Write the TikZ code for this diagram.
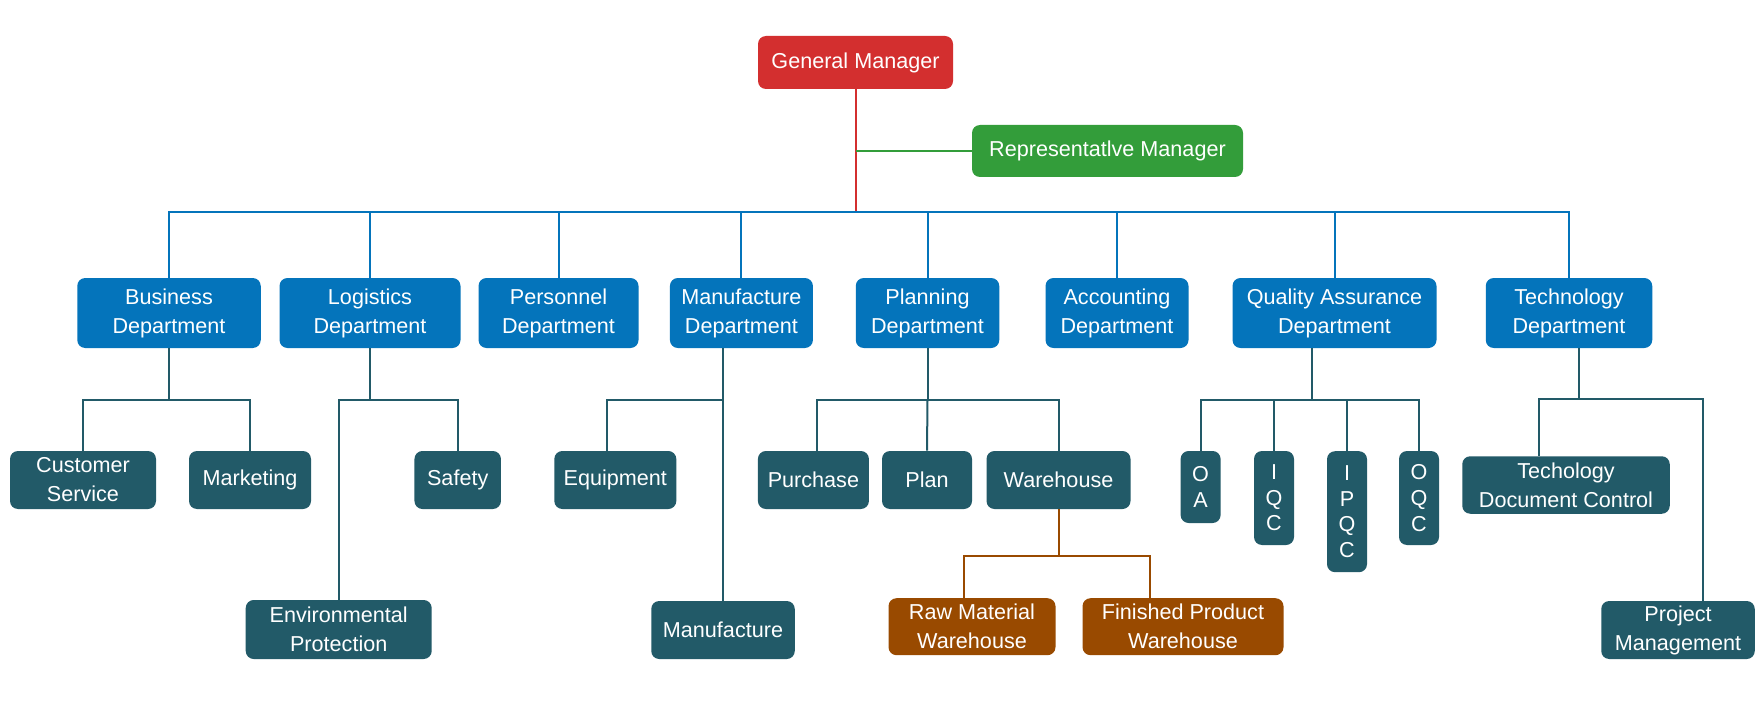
\documentclass[tikz,border=0pt]{standalone}
\usepackage{fontspec}
\setmainfont{Liberation Sans}
\usepackage{xcolor}
\usetikzlibrary{positioning,calc}

\definecolor{gmred}{RGB}{211,47,47}
\definecolor{repgreen}{RGB}{51,157,58}
\definecolor{deptblue}{RGB}{4,116,187}
\definecolor{unitteal}{RGB}{34,90,104}
\definecolor{storebrown}{RGB}{153,74,0}

\tikzset{
    box/.style={rounded corners=4pt, text=white, align=center, inner sep=0pt,
        font=\fontsize{10.8}{14.5}\selectfont},
    gmbox/.style={box, fill=gmred},
    repbox/.style={box, fill=repgreen},
    deptbox/.style={box, fill=deptblue, minimum height=35pt},
    unitbox/.style={box, fill=unitteal, minimum height=29pt},
    letterbox/.style={box, fill=unitteal, minimum width=20pt,
        font=\fontsize{10.8}{12.8}\selectfont},
    storebox/.style={box, fill=storebrown, minimum height=28.5pt},
    gmline/.style={gmred, line width=1pt},
    repline/.style={repgreen, line width=1pt},
    busline/.style={deptblue, line width=1pt},
    unitline/.style={unitteal, line width=1pt},
    storeline/.style={storebrown, line width=1pt}
}

\begin{document}
\begin{tikzpicture}[x=0.5pt, y=-0.5pt]
    \path[fill=white, use as bounding box] (0,0) rectangle (1758,722);

    % Top
    \node[gmbox, minimum width=97.5pt, minimum height=26.5pt] (gm) at (855.5,62.5) {General Manager};
    \node[repbox, minimum width=135.5pt, minimum height=26pt] (rep) at (1107.5,151) {Representatlve Manager};

    % Departments
    \node[deptbox, minimum width=91.75pt] (bus) at (169,313) {Business\\Department};
    \node[deptbox, minimum width=90.5pt] (log) at (370,313) {Logistics\\Department};
    \node[deptbox, minimum width=80pt] (per) at (558.5,313) {Personnel\\Department};
    \node[deptbox, minimum width=71.5pt] (man) at (741.4,313) {Manufacture\\Department};
    \node[deptbox, minimum width=71.75pt] (pla) at (927.5,313) {Planning\\Department};
    \node[deptbox, minimum width=71.5pt] (acc) at (1117,313) {Accounting\\Department};
    \node[deptbox, minimum width=102pt] (qa) at (1334.5,313) {Quality Assurance\\Department};
    \node[deptbox, minimum width=83.25pt] (tec) at (1569,313) {Technology\\Department};

    % Units
    \node[unitbox, minimum width=73pt] (cs) at (83,480) {Customer\\Service};
    \node[unitbox, minimum width=61pt] (mkt) at (250,480) {Marketing};
    \node[unitbox, minimum width=43.25pt] (saf) at (457.7,480) {Safety};
    \node[unitbox, minimum width=93pt, minimum height=29.5pt] (env) at (338.7,629.5) {Environmental\\Protection};
    \node[unitbox, minimum width=61pt] (equ) at (615.3,480) {Equipment};
    \node[unitbox, minimum width=71.75pt] (mfg) at (723,630) {Manufacture};
    \node[unitbox, minimum width=55.5pt] (pur) at (813.4,480) {Purchase};
    \node[unitbox, minimum width=45pt] (plan) at (927,480) {Plan};
    \node[unitbox, minimum width=72pt] (wh) at (1058.5,480) {Warehouse};
    \node[letterbox, minimum height=36pt] (oa) at (1200.6,487) {O\\A};
    \node[letterbox, minimum height=47pt] (iqc) at (1274,498) {I\\Q\\C};
    \node[letterbox, minimum height=60.5pt] (ipqc) at (1347,511.7) {I\\P\\Q\\C};
    \node[letterbox, minimum height=47pt] (oqc) at (1419,498) {O\\Q\\C};
    \node[unitbox, minimum width=103.75pt, minimum height=28.75pt] (tdc) at (1566,485) {Techology\\Document Control};
    \node[unitbox, minimum width=76.75pt] (pm) at (1678,630) {Project\\Management};

    % Warehouses
    \node[storebox, minimum width=83.5pt] (raw) at (972,626.7) {Raw Material\\Warehouse};
    \node[storebox, minimum width=100.5pt] (fin) at (1183,626.7) {Finished Product\\Warehouse};

    % Manager lines
    \coordinate (hub) at ($(gm.south)+(0,122.5)$);
    \draw[gmline] (gm.south) -- (hub);
    \draw[repline] (rep.west) -- (rep.west -| hub);

    % Department bus
    \draw[busline] (bus.north) -- ++(0,-66) -| (tec.north);
    \foreach \d in {log,per,man,pla,acc,qa}
        \draw[busline] (\d.north) -- (\d.north |- hub);

    % Unit lines
    \draw[unitline] (bus.south) -- ++(0,52) coordinate (busj);
    \draw[unitline] (cs.north) |- (busj) -| (mkt.north);
    \draw[unitline] (log.south) -- ++(0,52) coordinate (logj);
    \draw[unitline] (env.north) |- (logj) -| (saf.north);
    \draw[unitline] (mfg.north |- man.south) -- (mfg.north);
    \draw[unitline] ([xshift=-4pt]equ.north) -- ++(0,-51) -| (mfg.north);
    \draw[unitline] (pla.south) -- ++(0,52) coordinate (plaj);
    \draw[unitline] ([xshift=2pt]pur.north) |- (plaj) -| (wh.north);
    \draw[unitline] (plan.north) -- (plaj);
    \draw[unitline] ([xshift=-11.5pt]qa.south) -- ++(0,52) coordinate (qaj);
    \draw[unitline] (oa.north) |- (qaj) -| (oqc.north);
    \foreach \n in {iqc,ipqc}
        \draw[unitline] (\n.north) -- (\n.north |- qaj);
    \draw[unitline] ([xshift=5pt]tec.south) -- ++(0,50.3) coordinate (tecj);
    \draw[unitline] ([xshift=-13.5pt]tdc.north) |- (tecj) -| ([xshift=12.5pt]pm.north);

    % Warehouse lines
    \draw[storeline] (wh.south) -- ++(0,47) coordinate (whj);
    \draw[storeline] ([xshift=-4pt]raw.north) |- (whj) -| ([xshift=-16.5pt]fin.north);
\end{tikzpicture}
\end{document}
